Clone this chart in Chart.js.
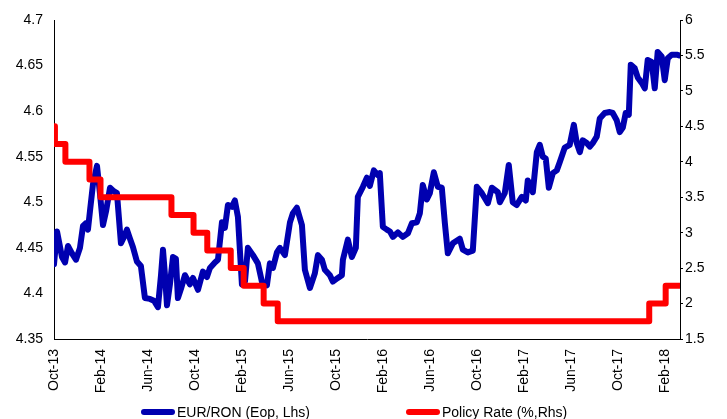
<!DOCTYPE html>
<html>
<head>
<meta charset="utf-8">
<script src="https://cdn.jsdelivr.net/npm/chart.js@4/dist/chart.umd.min.js"></script>
<style>
  html, body { margin: 0; padding: 0; background: #fff; }
  #wrap { position: relative; width: 727px; height: 419px; }
  #legend { position: absolute; left: 0; top: 404px; width: 727px; height: 15px;
            font: 14px "Liberation Sans", Arial, sans-serif; color: #000; }
  .item { position: absolute; top: 0; height: 15px; display: flex; align-items: center; white-space: nowrap; }
  .swatch { display: inline-block; width: 34px; height: 6px; border-radius: 3px; margin-right: 2px; }
</style>
</head>
<body>
<div id="wrap">
  <canvas id="c" width="727" height="419"></canvas>
  <div id="legend"></div>
</div>
<script>
// Series names
const seriesNames = ['EUR/RON (Eop, Lhs)', 'Policy Rate (%,Rhs)'];

// Bottom axis labels, one every four months starting Oct-2013
const tickLabels = ['Oct-13', 'Feb-14', 'Jun-14', 'Oct-14', 'Feb-15', 'Jun-15', 'Oct-15',
                    'Feb-16', 'Jun-16', 'Oct-16', 'Feb-17', 'Jun-17', 'Oct-17', 'Feb-18'];

// EUR/RON observations: time in months elapsed since 1 Oct 2013
const fxMonths = [
  0.00, 0.26, 0.68, 0.94, 1.19, 1.53, 1.87, 2.21, 2.47, 2.72, 2.89, 3.06, 3.32, 3.66, 3.91,
  4.17, 4.43, 4.77, 5.11, 5.36, 5.70, 5.96, 6.21, 6.47, 6.72, 7.06, 7.40, 7.74, 8.17, 8.51,
  8.85, 9.11, 9.28, 9.45, 9.62, 9.87, 10.13, 10.38, 10.55, 10.81, 11.15, 11.57, 11.83, 12.26, 12.68,
  13.02, 13.28, 13.70, 13.96, 14.30, 14.55, 14.81, 15.15, 15.40, 15.66, 16.00, 16.26, 16.51, 16.94, 17.36,
  17.70, 18.13, 18.38, 18.64, 18.98, 19.23, 19.66, 20.09, 20.34, 20.68, 21.11, 21.36, 21.79, 22.21, 22.47,
  22.81, 23.06, 23.49, 23.74, 24.17, 24.51, 24.60, 25.02, 25.36, 25.70, 25.87, 26.30, 26.64, 26.89, 27.23,
  27.57, 27.74, 28.00, 28.34, 28.60, 28.85, 29.28, 29.70, 30.13, 30.47, 30.89, 31.15, 31.40, 31.74, 32.00,
  32.34, 32.68, 33.02, 33.28, 33.53, 33.96, 34.55, 34.81, 35.23, 35.66, 36.00, 36.43, 36.94, 37.28, 37.79,
  37.96, 38.38, 38.72, 39.06, 39.40, 39.83, 40.17, 40.34, 40.77, 41.11, 41.36, 41.62, 41.87, 42.13, 42.47,
  42.81, 43.06, 43.49, 43.91, 44.26, 44.51, 44.77, 45.02, 45.36, 45.62, 45.87, 46.21, 46.47, 46.89, 47.32,
  47.57, 47.91, 48.17, 48.43, 48.68, 48.94, 49.11, 49.45, 49.70, 50.04, 50.30, 50.55, 50.89, 51.15, 51.40,
  51.74, 52.00, 52.26, 52.60, 53.02, 53.28
];
const fxLevels = [
  4.432, 4.468, 4.440, 4.434, 4.452, 4.444, 4.437, 4.450, 4.474, 4.477, 4.470, 4.490, 4.520, 4.540, 4.510,
  4.475, 4.490, 4.516, 4.512, 4.510, 4.455, 4.462, 4.470, 4.460, 4.451, 4.435, 4.430, 4.395, 4.394, 4.392,
  4.385, 4.420, 4.448, 4.420, 4.387, 4.410, 4.440, 4.438, 4.395, 4.405, 4.420, 4.410, 4.417, 4.404, 4.424,
  4.418, 4.428, 4.434, 4.437, 4.478, 4.472, 4.497, 4.495, 4.502, 4.484, 4.410, 4.413, 4.450, 4.442, 4.433,
  4.413, 4.409, 4.433, 4.428, 4.445, 4.450, 4.442, 4.478, 4.488, 4.494, 4.475, 4.426, 4.406, 4.422, 4.442,
  4.437, 4.426, 4.420, 4.413, 4.417, 4.420, 4.437, 4.459, 4.440, 4.450, 4.506, 4.517, 4.527, 4.518, 4.535,
  4.530, 4.532, 4.473, 4.470, 4.468, 4.462, 4.467, 4.462, 4.466, 4.477, 4.478, 4.488, 4.519, 4.503, 4.510,
  4.533, 4.517, 4.516, 4.477, 4.444, 4.455, 4.460, 4.448, 4.445, 4.447, 4.517, 4.510, 4.499, 4.516, 4.511,
  4.500, 4.510, 4.541, 4.500, 4.497, 4.506, 4.502, 4.524, 4.511, 4.555, 4.563, 4.550, 4.548, 4.516, 4.532,
  4.535, 4.544, 4.560, 4.563, 4.585, 4.565, 4.555, 4.568, 4.565, 4.561, 4.565, 4.572, 4.592, 4.598, 4.599,
  4.598, 4.590, 4.577, 4.582, 4.598, 4.596, 4.651, 4.647, 4.637, 4.631, 4.625, 4.656, 4.654, 4.625, 4.665,
  4.660, 4.634, 4.658, 4.662, 4.662, 4.661
];

// Policy rate: month each new level took effect, and the level (%)
const policyMonths = [0.00, 0.08, 0.97, 3.02, 3.96, 10.00, 11.88, 13.05, 15.05, 16.15, 17.85, 19.05, 50.68, 52.08, 53.28];
const policyRates  = [4.50, 4.25, 4.00, 3.75, 3.50, 3.25, 3.00, 2.75, 2.50, 2.25, 2.00, 1.75, 2.00, 2.25, 2.25];

const BLUE = '#0000B0';
const RED = '#FF0000';
const FONT = { family: '"Liberation Sans", Arial, sans-serif', size: 14 };

const toPoints = (xs, ys) => xs.map((x, i) => ({ x: x, y: ys[i] }));
const trim = v => String(Number(v.toFixed(2)));

const chart = new Chart(document.getElementById('c'), {
  type: 'line',
  data: {
    datasets: [
      {
        label: seriesNames[0],
        data: toPoints(fxMonths, fxLevels),
        yAxisID: 'y',
        borderColor: BLUE,
        backgroundColor: BLUE,
        borderWidth: 6,
        borderCapStyle: 'round',
        borderJoinStyle: 'round',
        pointRadius: 0,
        tension: 0,
        order: 2
      },
      {
        label: seriesNames[1],
        data: toPoints(policyMonths, policyRates),
        yAxisID: 'y2',
        borderColor: RED,
        backgroundColor: RED,
        borderWidth: 6,
        borderCapStyle: 'round',
        borderJoinStyle: 'round',
        stepped: true,
        pointRadius: 0,
        order: 1
      }
    ]
  },
  options: {
    responsive: false,
    animation: false,
    devicePixelRatio: 1,
    layout: { padding: { top: 20, left: 0, right: 0, bottom: 0 } },
    plugins: { legend: { display: false }, tooltip: { enabled: false } },
    scales: {
      x: {
        type: 'linear',
        min: 0,
        max: 53.3,
        afterFit: s => { s.height = 80; },
        border: { display: true, color: '#000', width: 1 },
        grid: { display: true, drawOnChartArea: false, drawTicks: false },
        ticks: {
          stepSize: 4, autoSkip: false, includeBounds: false,
          minRotation: 90, maxRotation: 90, padding: 10,
          color: '#000', font: FONT,
          callback: v => tickLabels[Math.round(v / 4)]
        }
      },
      y: {
        position: 'left',
        min: 4.35,
        max: 4.7,
        afterFit: s => { s.width = 54; },
        border: { display: true, color: '#000', width: 1 },
        grid: { display: true, drawOnChartArea: false, drawTicks: false },
        ticks: { stepSize: 0.05, padding: 11, color: '#000', font: FONT, callback: trim }
      },
      y2: {
        position: 'right',
        min: 1.5,
        max: 6,
        afterFit: s => { s.width = 47; },
        border: { display: true, color: '#000', width: 1 },
        grid: { display: true, drawOnChartArea: false, drawTicks: true, tickLength: 3, color: '#000' },
        ticks: { stepSize: 0.5, padding: 2, color: '#000', font: FONT, callback: trim }
      }
    }
  }
});

// Legend below the plot, built from the dataset names and colours
const legendEl = document.getElementById('legend');
const legendLeft = [141, 406];
chart.data.datasets.forEach((ds, i) => {
  const item = document.createElement('div');
  item.className = 'item';
  item.style.left = legendLeft[i] + 'px';
  const sw = document.createElement('span');
  sw.className = 'swatch';
  sw.style.background = ds.borderColor;
  item.appendChild(sw);
  item.appendChild(document.createTextNode(ds.label));
  legendEl.appendChild(item);
});
</script>
</body>
</html>
